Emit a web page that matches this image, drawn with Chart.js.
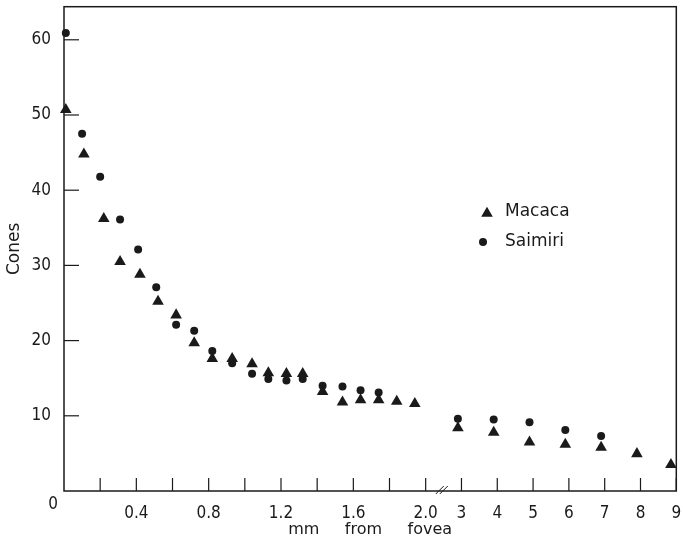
<!DOCTYPE html>
<html>
<head>
<meta charset="utf-8">
<script src="https://cdn.jsdelivr.net/npm/chart.js@4/dist/chart.umd.min.js"></script>
<style>
    html, body { margin: 0; padding: 0; background: #fff; }
    #wrap { width: 683px; height: 544px; }
</style>
</head>
<body>
<div id="wrap"><canvas id="conesChart" width="683" height="544"></canvas></div>
<script>
// =========================
// DATA (distance in mm from fovea)
// =========================
const macacaMm = [0.01, 0.11, 0.22, 0.31, 0.42, 0.52, 0.62, 0.72, 0.82, 0.93, 1.04, 1.13, 1.23, 1.32, 1.43, 1.54, 1.64, 1.74, 1.84, 1.94, 2.9, 3.9, 4.9, 5.9, 6.9, 7.9, 8.85];
const macacaCones = [50.7, 44.8, 36.2, 30.5, 28.8, 25.2, 23.4, 19.7, 17.6, 17.6, 16.9, 15.7, 15.6, 15.6, 13.2, 11.8, 12.1, 12.1, 11.9, 11.6, 8.4, 7.8, 6.5, 6.2, 5.8, 4.95, 3.5];

const saimiriMm = [0.01, 0.10, 0.20, 0.31, 0.41, 0.51, 0.62, 0.72, 0.82, 0.93, 1.04, 1.13, 1.23, 1.32, 1.43, 1.54, 1.64, 1.74, 2.9, 3.9, 4.9, 5.9, 6.9];
const saimiriCones = [60.9, 47.5, 41.8, 36.1, 32.1, 27.1, 22.1, 21.3, 18.6, 17.0, 15.6, 14.9, 14.7, 14.9, 14.0, 13.9, 13.4, 13.1, 9.6, 9.5, 9.15, 8.1, 7.3];

const xTickMm = [0.2, 0.4, 0.6, 0.8, 1.0, 1.2, 1.4, 1.6, 1.8, 2.0, 3, 4, 5, 6, 7, 8, 9];
const xLabelMm = [0.4, 0.8, 1.2, 1.6, 2.0, 3, 4, 5, 6, 7, 8, 9];
const xLabelText = ["0.4", "0.8", "1.2", "1.6", "2.0", "3", "4", "5", "6", "7", "8", "9"];
const yTicks = [10, 20, 30, 40, 50, 60];

const seriesNames = ["Macaca", "Saimiri"];

// axis is broken after 2.0 mm: beyond it 1 mm takes the room of ~0.2 mm
const BREAK_AT = 2.0;
const BREAK_SCALE = 0.198;
function toAxis(mm) {
    return mm <= BREAK_AT ? mm : BREAK_AT + (mm - BREAK_AT) * BREAK_SCALE;
}
function fromAxis(u) {
    return u <= BREAK_AT ? u : BREAK_AT + (u - BREAK_AT) / BREAK_SCALE;
}

const INK = "#1a1a1a";
const TICK_FONT = "'DejaVu Sans Condensed', 'Liberation Sans Narrow', 'DejaVu Sans', sans-serif";
const TEXT_FONT = "'DejaVu Sans', sans-serif";

function points(xs, ys) {
    return xs.map((x, i) => ({ x: toAxis(x), y: ys[i] }));
}

// =========================
// FRAME, TICK MARKS, BREAK, LEGEND
// =========================
const framePlugin = {
    id: "frame",
    beforeDatasetsDraw(chart) {
        const { ctx, chartArea: a, scales } = chart;
        ctx.save();
        ctx.strokeStyle = INK;
        ctx.lineWidth = 1.5;
        ctx.strokeRect(a.left, a.top, a.right - a.left, a.bottom - a.top);

        // y tick marks point inward
        ctx.lineWidth = 1.2;
        yTicks.forEach(v => {
            const y = scales.y.getPixelForValue(v);
            ctx.beginPath();
            ctx.moveTo(a.left, y);
            ctx.lineTo(a.left + 15, y);
            ctx.stroke();
        });
        // x tick marks point upward
        xTickMm.forEach(mm => {
            const x = scales.x.getPixelForValue(toAxis(mm));
            ctx.beginPath();
            ctx.moveTo(x, a.bottom);
            ctx.lineTo(x, a.bottom - 13);
            ctx.stroke();
        });

        // break mark //
        const bx = scales.x.getPixelForValue(toAxis(2.45));
        ctx.lineWidth = 1;
        [-2, 2].forEach(d => {
            ctx.beginPath();
            ctx.moveTo(bx + d - 4, a.bottom + 3);
            ctx.lineTo(bx + d + 4, a.bottom - 5);
            ctx.stroke();
        });

        // the "0" sits left of the corner
        ctx.fillStyle = INK;
        ctx.font = "17px " + TICK_FONT;
        ctx.textAlign = "center";
        ctx.textBaseline = "middle";
        ctx.fillText("0", a.left - 11, a.bottom + 14);
        ctx.restore();
    },
    afterDraw(chart) {
        const { ctx } = chart;
        const styles = ["triangle", "circle"];
        const radii = [6.7, 4];
        const spots = [[487, 213.5, 505, 212], [483, 242, 505, 242]];
        ctx.save();
        ctx.fillStyle = INK;
        ctx.font = "17px " + TEXT_FONT;
        ctx.textAlign = "left";
        ctx.textBaseline = "middle";
        seriesNames.forEach((name, i) => {
            const [px, py, tx, ty] = spots[i];
            Chart.helpers.drawPoint(ctx, { pointStyle: styles[i], radius: radii[i], rotation: 0, borderWidth: 0 }, px, py);
            ctx.fillText(name, tx, ty);
        });
        ctx.restore();
    }
};

// =========================
// CHART
// =========================
const ctx = document.getElementById("conesChart").getContext("2d");

new Chart(ctx, {
    type: "scatter",
    data: {
        datasets: [
            {
                label: seriesNames[0],
                data: points(macacaMm, macacaCones),
                pointStyle: "triangle",
                pointRadius: 6.7,
                pointHoverRadius: 6.7,
                pointBorderWidth: 0,
                backgroundColor: INK,
                borderColor: INK
            },
            {
                label: seriesNames[1],
                data: points(saimiriMm, saimiriCones),
                pointStyle: "circle",
                pointRadius: 4,
                pointHoverRadius: 4,
                pointBorderWidth: 0,
                backgroundColor: INK,
                borderColor: INK
            }
        ]
    },
    options: {
        responsive: false,
        animation: false,
        clip: false,
        layout: { padding: { top: 5, right: 2, bottom: 0, left: 0 } },
        plugins: {
            legend: { display: false },
            tooltip: { enabled: false }
        },
        scales: {
            x: {
                type: "linear",
                min: 0,
                max: toAxis(9),
                grid: { display: false },
                border: { display: false },
                afterFit: scale => {
                    scale.height = 53;
                    scale.paddingLeft = 0;
                    scale.paddingRight = 0;
                },
                afterBuildTicks: scale => {
                    scale.ticks = xLabelMm.map(mm => ({ value: toAxis(mm) }));
                },
                ticks: {
                    autoSkip: false,
                    maxRotation: 0,
                    padding: 4,
                    color: INK,
                    font: { family: TICK_FONT, size: 17 },
                    callback: value => {
                        const mm = fromAxis(value);
                        const i = xLabelMm.findIndex(m => Math.abs(m - mm) < 0.01);
                        return i >= 0 ? xLabelText[i] : "";
                    }
                },
                title: {
                    display: true,
                    text: "mm     from     fovea",
                    color: INK,
                    font: { family: TEXT_FONT, size: 16 },
                    padding: { top: 0, bottom: 5 }
                }
            },
            y: {
                min: 0,
                max: 64.4,
                grid: { display: false },
                border: { display: false },
                afterFit: scale => {
                    scale.width = 64;
                    scale.paddingTop = 0;
                    scale.paddingBottom = 0;
                },
                afterBuildTicks: scale => {
                    scale.ticks = yTicks.map(v => ({ value: v }));
                },
                ticks: {
                    padding: 5,
                    color: INK,
                    font: { family: TICK_FONT, size: 17 }
                },
                title: {
                    display: true,
                    text: "Cones",
                    color: INK,
                    font: { family: TEXT_FONT, size: 17 },
                    padding: { top: 4, bottom: 0 }
                }
            }
        }
    },
    plugins: [framePlugin]
});
</script>
</body>
</html>
